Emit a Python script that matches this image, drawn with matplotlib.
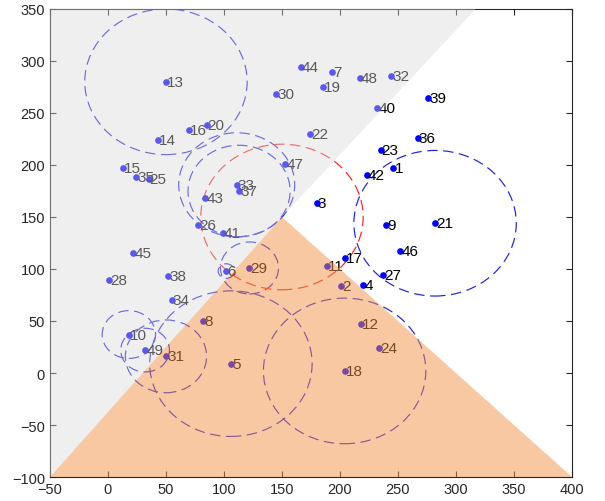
import matplotlib
matplotlib.use('Agg')
import matplotlib.pyplot as plt
from matplotlib.patches import Circle, Polygon

plt.rcParams['font.family'] = ['Liberation Sans', 'DejaVu Sans']
plt.rcParams['lines.scale_dashes'] = False

# Node positions (node i is at index i-1)
node_x = [246, 201, 180, 220, 106, 102, 193, 82, 240, 18,
          189, 218, 50, 43, 13, 70, 204, 204, 185, 85,
          282, 174, 235, 234, 35, 78, 237, 1, 122, 145,
          50, 244, 111, 55, 24, 267, 113, 52, 276, 232,
          99, 223, 84, 166, 22, 252, 153, 217, 32]
node_y = [197, 84, 163, 85, 9, 98, 289, 50, 142, 37,
          103, 47, 280, 224, 197, 234, 111, 2, 275, 238,
          144, 230, 214, 24, 187, 142, 94, 89, 101, 268,
          16, 286, 181, 70, 188, 226, 175, 93, 264, 255,
          135, 190, 168, 294, 115, 117, 201, 284, 22]

# Nodes that have a range circle drawn round them, and the radii
circle_nodes = [13, 33, 37, 29, 6, 10, 49, 31, 5, 18, 21]
circle_r = [70, 50, 44, 25, 7, 23, 21, 35, 70, 70, 70]

# Red circle round the centre point
sink_x, sink_y, sink_r = 150, 150, 70

# Shaded regions
gray_x = [-50, 150, 317, -50]
gray_y = [-100, 150, 350, 350]
orange_x = [-50, 400, 150]
orange_y = [-100, -100, 150]

fig = plt.figure(figsize=(6.05, 5.02), dpi=100)
ax = fig.add_axes([0.0826, 0.0478, 0.8628, 0.9323])

dash = (0, (7.5, 4))
for n, r in zip(circle_nodes, circle_r):
    ax.add_patch(Circle((node_x[n - 1], node_y[n - 1]), r, fill=False,
                        edgecolor='#2020e0', lw=0.85, linestyle=dash, zorder=2))
ax.add_patch(Circle((sink_x, sink_y), sink_r, fill=False, edgecolor='#ff2020',
                    lw=0.85, linestyle=dash, zorder=2))

ax.plot(node_x, node_y, 'o', color='#0000ff', markersize=3.8, zorder=3)
for i in range(len(node_x)):
    ax.text(node_x[i] + 1, node_y[i], str(i + 1), fontsize=11, color='black',
            ha='left', va='center', zorder=3)

# Transparent regions laid over everything
ax.add_patch(Polygon(list(zip(gray_x, gray_y)), closed=True, facecolor=(0.85, 0.85, 0.85),
                     alpha=0.41, edgecolor='none', zorder=5))
ax.add_patch(Polygon(list(zip(orange_x, orange_y)), closed=True, facecolor=(0.946, 0.576, 0.278),
                     alpha=0.5, edgecolor='none', zorder=5))

ax.set_xlim(-50, 400)
ax.set_ylim(-100, 350)
ax.set_xticks(range(-50, 401, 50))
ax.set_yticks(range(-100, 351, 50))
ax.tick_params(direction='in', top=True, right=True, labelsize=10.5, colors='#262626', length=4)
for s in ax.spines.values():
    s.set_color('#262626')
    s.set_linewidth(0.8)

fig.savefig('out.png', dpi=100)
